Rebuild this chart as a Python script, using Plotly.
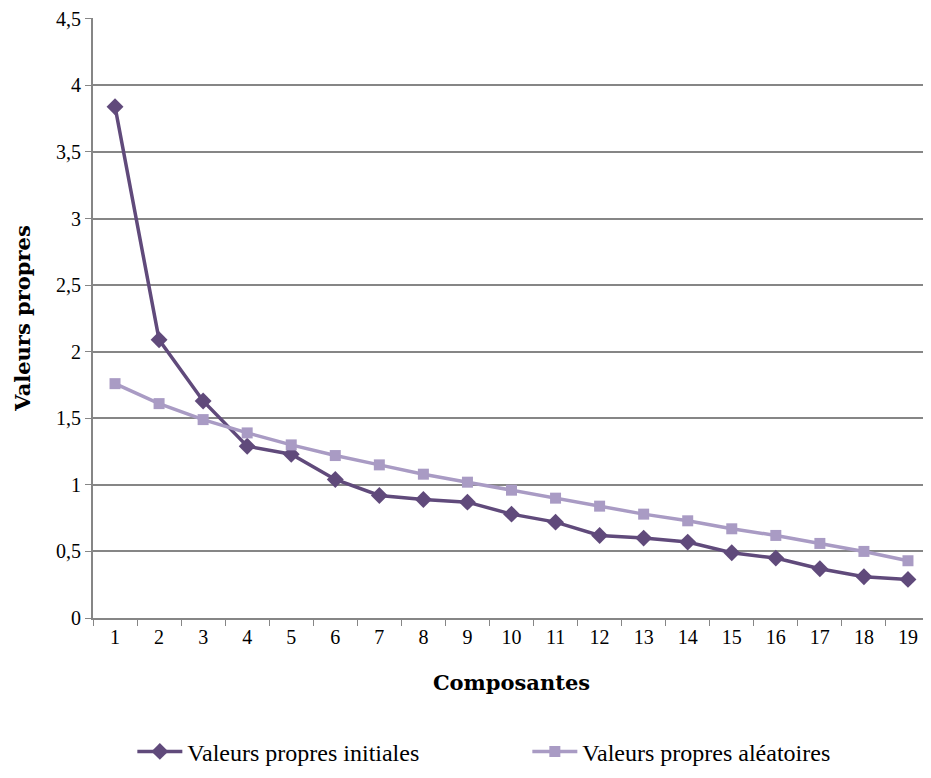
import plotly.graph_objects as go

composantes = [str(i) for i in range(1, 20)]
initiales = [3.84, 2.09, 1.63, 1.29, 1.23, 1.04, 0.92, 0.89, 0.87, 0.78,
             0.72, 0.62, 0.60, 0.57, 0.49, 0.45, 0.37, 0.31, 0.29]
aleatoires = [1.76, 1.61, 1.49, 1.39, 1.30, 1.22, 1.15, 1.08, 1.02, 0.96,
              0.90, 0.84, 0.78, 0.73, 0.67, 0.62, 0.56, 0.50, 0.43]
y_ticks = [0, 0.5, 1, 1.5, 2, 2.5, 3, 3.5, 4, 4.5]

dark = "#604A7B"
light = "#A99BC4"
grid = "#868686"
serif = "Liberation Serif"
title_font = dict(family="DejaVu Serif", size=21, color="black")

fig = go.Figure()
fig.add_trace(go.Scatter(
    x=composantes, y=initiales, mode="lines+markers",
    name="Valeurs propres initiales",
    line=dict(color=dark, width=3.5),
    marker=dict(symbol="diamond", size=13, color=dark)))
fig.add_trace(go.Scatter(
    x=composantes, y=aleatoires, mode="lines+markers",
    name="Valeurs propres aléatoires",
    line=dict(color=light, width=3.5),
    marker=dict(symbol="square", size=11, color=light)))

fig.update_layout(
    width=923, height=770,
    margin=dict(l=85, r=1, t=10, b=160),
    paper_bgcolor="white", plot_bgcolor="white",
    separators=", ",
    font=dict(family=serif, size=20, color="black"),
    showlegend=True,
    legend=dict(orientation="h", x=0.047, xanchor="left", y=-0.223, yanchor="middle",
                font=dict(family=serif, size=24, color="black"),
                entrywidth=335, itemwidth=45),
    xaxis=dict(type="category", range=[-0.5, 18.5], tickson="boundaries",
               ticks="outside", ticklen=6, automargin=False,
               tickcolor=grid, showline=True, linecolor=grid, linewidth=2,
               showgrid=False,
               title=dict(text="<b>Composantes</b>", font=title_font, standoff=28),
               tickfont=dict(family=serif, size=20)),
    yaxis=dict(range=[0, 4.506], tickvals=y_ticks, ticks="outside", ticklen=6,
               tickcolor=grid, showline=True, linecolor=grid, linewidth=2,
               showgrid=True, gridcolor=grid, gridwidth=1.5, zeroline=False,
               tickformat=",.1~f", automargin=False, ticklabeloverflow="allow",
               title=dict(text="<b>Valeurs propres</b>", font=title_font, standoff=20),
               tickfont=dict(family=serif, size=20)),
)
fig.write_html("out.html")
